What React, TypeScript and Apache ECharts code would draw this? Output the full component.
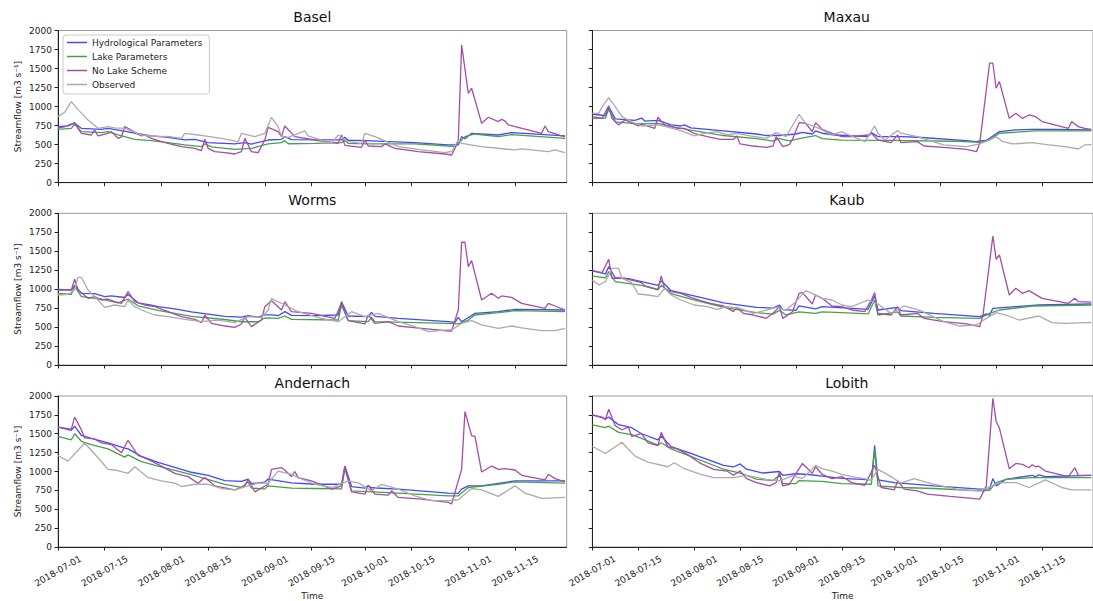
import React, { useEffect, useRef } from "react";
import * as echarts from "echarts";

const START_DATE = "2018-07-01";
const X_SPAN_DAYS = 152.5;
const TICK_DATES = [
  "2018-07-01", "2018-07-15", "2018-08-01", "2018-08-15", "2018-09-01",
  "2018-09-15", "2018-10-01", "2018-10-15", "2018-11-01", "2018-11-15",
];
const Y_MIN = 0;
const Y_MAX = 2000;
const Y_STEP = 250;
const STATIONS = ["Basel", "Maxau", "Worms", "Kaub", "Andernach", "Lobith"];
const SERIES_NAMES = ["Hydrological Parameters", "Lake Parameters", "No Lake Scheme", "Observed"];
const SERIES_COLORS = ["#4747ff", "#45a345", "#a64da6", "#ababab"];
const Y_LABEL = "Streamflow [m3 s\u207B\u00B9]";
const X_LABEL = "Time";

// [day offset from START_DATE, streamflow]
const baselHydro = [[0,735],[3,748],[5,782],[7,715],[13,700],[15,713],[19,684],[23,650],[28,615],[33,597],[38,562],[41,570],[45,527],[53,510],[56,527],[58,508],[63,561],[67,570],[68,605],[70,565],[85,562],[86,597],[87,558],[92,553],[107,526],[117,497],[120,496],[121,605],[122,578],[124,649],[132,627],[136,658],[152,614]];
const baselLake = [[0,702],[4,715],[5,772],[7,671],[13,658],[15,671],[18,627],[23,570],[28,553],[33,526],[38,496],[43,474],[44,509],[46,472],[53,439],[58,452],[63,509],[67,526],[68,553],[69,512],[77,517],[85,526],[86,553],[87,517],[93,509],[107,509],[117,482],[119,474],[122,605],[125,640],[132,605],[136,632],[152,583]];
const baselNoLake = [[0,720],[2,735],[5,790],[6,715],[7,649],[10,627],[11,693],[12,614],[15,649],[16,671],[18,583],[19,600],[20,737],[21,715],[25,614],[26,627],[28,583],[31,540],[33,517],[37,474],[41,452],[43,421],[44,570],[45,452],[47,408],[50,395],[53,377],[55,408],[56,583],[58,408],[60,395],[62,561],[63,728],[66,671],[67,605],[68,745],[71,605],[77,561],[84,517],[85,627],[86,490],[91,465],[92,561],[93,482],[97,474],[98,509],[101,452],[108,408],[116,377],[118,364],[119,450],[120,560],[121,1811],[123,1175],[124,1241],[127,780],[129,860],[132,803],[133,833],[134,811],[135,759],[145,649],[146,745],[147,671],[151,614],[152,605]];
const baselObs = [[0,868],[2,925],[4,1066],[6,960],[9,825],[12,715],[15,737],[17,720],[20,715],[25,627],[30,605],[33,610],[37,583],[38,649],[42,627],[44,614],[49,583],[54,540],[55,649],[59,605],[62,649],[64,860],[66,737],[67,605],[69,595],[74,680],[75,615],[82,517],[84,627],[87,540],[91,517],[92,649],[95,605],[102,474],[109,430],[116,395],[118,410],[120,561],[121,517],[127,474],[137,430],[139,445],[147,408],[149,430],[152,395]];

const maxauHydro = [[0,903],[4,880],[5,1000],[7,840],[13,820],[15,850],[16,810],[20,820],[24,760],[27,745],[28,759],[30,720],[40,680],[50,640],[53,620],[57,620],[62,640],[64,660],[67,640],[68,680],[70,650],[74,627],[84,605],[85,658],[87,605],[94,605],[99,597],[114,553],[117,540],[118,550],[120,555],[124,671],[129,693],[134,702],[140,700],[152,693]];
const maxauLake = [[0,846],[4,850],[5,965],[7,800],[14,772],[20,780],[25,730],[30,690],[40,620],[50,580],[55,545],[57,580],[60,550],[63,580],[68,620],[70,580],[76,560],[90,555],[110,545],[118,530],[121,560],[124,650],[135,680],[152,680]];
const maxauNoLake = [[0,868],[3,846],[5,1009],[6,846],[8,759],[10,825],[14,745],[15,770],[19,715],[20,860],[22,760],[26,715],[28,715],[31,649],[35,605],[39,570],[43,570],[44,614],[45,509],[49,482],[53,465],[55,480],[56,605],[58,474],[60,500],[61,570],[63,789],[65,781],[67,671],[68,789],[70,702],[73,649],[76,605],[79,605],[84,627],[85,649],[87,561],[91,526],[93,627],[94,526],[99,540],[101,482],[107,465],[114,439],[117,408],[118,517],[121,1570],[122,1570],[123,1241],[124,1329],[127,846],[129,912],[131,846],[133,890],[135,868],[137,803],[145,715],[146,803],[148,737],[150,715],[152,700]];
const maxauObs = [[0,912],[2,912],[3,1000],[5,1118],[7,1000],[9,868],[13,781],[15,745],[20,759],[23,730],[27,684],[31,614],[34,649],[38,671],[41,627],[44,649],[48,614],[53,583],[56,658],[59,605],[63,899],[65,781],[69,715],[73,627],[76,671],[77,649],[83,540],[86,745],[87,650],[89,561],[93,684],[94,650],[99,605],[107,496],[114,474],[118,509],[121,561],[123,605],[125,540],[128,509],[134,526],[139,496],[144,474],[148,443],[150,496],[152,500]];

const wormsHydro = [[0,998],[4,990],[5,1050],[7,945],[11,940],[14,901],[16,910],[20,890],[21,930],[24,820],[28,790],[30,770],[35,740],[40,700],[45,670],[50,640],[55,630],[57,650],[60,630],[62,660],[64,660],[66,650],[68,703],[70,655],[77,651],[84,659],[85,835],[87,646],[93,637],[94,695],[95,640],[102,615],[117,571],[119,563],[120,629],[121,571],[125,681],[132,703],[137,734],[152,725]];
const wormsLake = [[0,945],[4,930],[5,1040],[7,901],[13,870],[18,820],[21,870],[24,780],[30,720],[40,640],[50,600],[55,570],[60,570],[62,620],[66,615],[68,646],[70,602],[84,593],[85,791],[87,585],[93,571],[94,629],[95,571],[117,549],[120,541],[123,593],[125,659],[132,690],[137,717],[152,703]];
const wormsNoLake = [[0,989],[4,989],[5,1130],[6,989],[9,879],[11,901],[13,857],[15,870],[17,835],[19,813],[21,967],[23,835],[26,791],[29,769],[33,703],[37,637],[41,602],[43,558],[44,659],[46,549],[50,514],[53,497],[55,541],[56,629],[58,506],[61,593],[62,769],[64,848],[67,725],[68,835],[70,703],[76,681],[83,615],[85,813],[87,585],[92,541],[93,659],[95,549],[99,571],[102,514],[109,484],[117,448],[118,448],[120,725],[121,1618],[122,1618],[123,1297],[124,1376],[127,857],[130,945],[132,879],[133,910],[136,892],[139,813],[146,747],[147,813],[149,778],[152,725]];
const wormsObs = [[0,923],[3,932],[5,989],[6,1156],[7,1156],[9,989],[12,857],[14,760],[17,791],[20,769],[21,857],[23,769],[25,725],[29,659],[33,637],[38,602],[43,571],[48,593],[53,558],[57,637],[61,629],[63,725],[64,875],[68,791],[71,725],[72,703],[79,615],[84,571],[88,703],[92,637],[96,681],[102,571],[107,506],[111,440],[117,462],[118,462],[121,549],[124,585],[127,528],[132,484],[136,514],[139,490],[145,453],[149,453],[152,484]];

const kaubHydro = [[0,1240],[4,1200],[5,1297],[7,1150],[11,1140],[15,1100],[20,1050],[21,1110],[24,980],[30,920],[40,820],[45,790],[50,760],[55,750],[57,790],[58,730],[62,720],[63,780],[68,740],[70,770],[74,760],[84,734],[86,910],[87,725],[93,760],[94,717],[104,681],[118,637],[120,673],[121,655],[122,747],[129,769],[136,791],[152,804]];
const kaubLake = [[0,1174],[4,1150],[5,1231],[7,1100],[15,1050],[20,990],[21,1050],[24,940],[30,870],[40,760],[50,690],[55,670],[57,720],[59,660],[63,700],[68,680],[70,700],[76,690],[84,673],[86,857],[87,659],[93,700],[94,646],[104,629],[118,615],[121,681],[124,725],[134,778],[152,791]];
const kaubNoLake = [[0,1244],[3,1218],[5,1394],[6,1143],[10,1143],[11,1130],[15,1086],[16,1042],[20,998],[21,1174],[22,1011],[24,967],[27,945],[30,892],[33,848],[36,813],[40,778],[43,703],[44,760],[46,681],[49,659],[53,615],[55,681],[57,769],[58,615],[61,703],[63,945],[64,954],[67,804],[68,923],[70,879],[73,778],[76,769],[79,725],[83,703],[85,857],[86,954],[87,681],[91,659],[93,769],[94,659],[99,681],[101,615],[107,571],[114,541],[118,506],[119,659],[122,1701],[123,1394],[124,1451],[127,923],[129,1011],[131,945],[133,980],[137,879],[145,813],[147,879],[148,835],[152,830]];
const kaubObs = [[0,1121],[2,1055],[4,1099],[6,1275],[8,1275],[9,1143],[12,1086],[14,936],[17,923],[20,901],[22,1011],[24,923],[27,857],[31,791],[35,769],[38,734],[41,769],[45,747],[49,681],[53,725],[56,760],[59,725],[62,835],[65,980],[67,945],[70,879],[73,857],[76,791],[79,769],[84,857],[87,804],[91,681],[95,778],[100,717],[107,571],[112,514],[117,528],[120,615],[123,690],[126,659],[130,593],[136,646],[140,558],[144,549],[150,558],[152,560]];

const andernachHydro = [[0,1588],[4,1545],[5,1600],[7,1480],[10,1440],[15,1380],[20,1310],[21,1300],[25,1200],[30,1120],[40,990],[45,950],[50,880],[55,870],[57,900],[58,840],[62,860],[63,900],[70,850],[77,831],[85,831],[86,1072],[88,801],[92,780],[93,810],[94,785],[102,766],[117,713],[120,709],[121,766],[123,810],[127,810],[137,875],[152,875]];
const andernachLake = [[0,1466],[4,1420],[5,1500],[7,1400],[10,1357],[15,1300],[20,1190],[21,1220],[25,1130],[30,1070],[40,960],[50,830],[55,790],[57,860],[58,780],[62,770],[63,810],[70,780],[77,775],[85,770],[86,1037],[88,744],[102,713],[117,678],[120,678],[123,788],[132,831],[137,862],[152,845]];
const andernachNoLake = [[0,1588],[4,1562],[5,1720],[7,1553],[8,1444],[11,1431],[13,1378],[16,1357],[19,1247],[21,1413],[24,1212],[27,1160],[31,1072],[35,976],[39,932],[42,845],[44,919],[47,810],[53,757],[56,810],[57,897],[59,731],[63,831],[64,1028],[67,1050],[68,1020],[70,932],[71,1000],[72,919],[76,875],[82,766],[85,810],[86,1063],[88,731],[92,700],[93,818],[95,700],[99,687],[100,744],[102,656],[109,634],[117,591],[118,569],[121,1028],[122,1794],[124,1475],[125,1466],[127,993],[130,1072],[132,1028],[134,1037],[137,1020],[139,950],[146,888],[147,963],[149,906],[152,862]];
const andernachObs = [[0,1212],[3,1138],[8,1378],[12,1182],[15,1028],[17,1020],[21,976],[23,1063],[27,919],[31,875],[35,845],[37,801],[41,831],[45,831],[49,775],[53,757],[57,810],[60,845],[63,845],[66,1006],[70,963],[72,919],[77,831],[82,788],[87,875],[90,850],[94,744],[97,831],[102,766],[107,678],[112,613],[117,613],[120,626],[124,775],[127,757],[132,670],[137,810],[140,713],[145,643],[152,656]];

const lobithHydro = [[0,1750],[4,1700],[5,1720],[8,1620],[12,1580],[15,1500],[20,1420],[21,1470],[24,1330],[30,1240],[40,1080],[43,1060],[45,1100],[47,1030],[52,980],[57,1000],[58,950],[62,970],[66,960],[70,940],[76,910],[85,888],[86,1343],[87,888],[92,853],[104,810],[118,766],[121,770],[122,906],[123,810],[126,897],[134,950],[135,930],[136,955],[138,932],[152,950]];
const lobithLake = [[0,1619],[4,1580],[5,1600],[8,1518],[12,1488],[15,1440],[20,1350],[21,1380],[24,1300],[30,1200],[40,1030],[45,980],[50,900],[55,880],[57,950],[58,840],[62,840],[63,880],[70,870],[76,840],[85,831],[86,1291],[87,810],[94,788],[104,775],[118,744],[121,750],[123,853],[126,897],[134,919],[152,919]];
const lobithNoLake = [[0,1750],[3,1720],[4,1685],[5,1825],[7,1606],[9,1553],[11,1588],[12,1466],[15,1501],[17,1378],[20,1343],[21,1518],[23,1326],[26,1300],[29,1225],[33,1107],[37,1028],[41,1006],[43,950],[45,1006],[47,906],[50,853],[54,810],[56,853],[57,993],[58,810],[60,830],[64,1107],[67,976],[68,1063],[70,963],[73,906],[76,932],[77,910],[79,853],[83,818],[86,1081],[88,788],[92,757],[93,875],[95,766],[99,744],[102,700],[109,670],[118,634],[120,810],[122,1969],[123,1663],[124,1575],[127,1037],[129,1107],[131,1094],[133,1050],[134,1090],[135,1063],[136,1070],[138,1006],[145,932],[147,1050],[148,950],[152,950]];
const lobithObs = [[0,1335],[4,1238],[9,1387],[13,1203],[17,1125],[23,1063],[25,1116],[28,1037],[33,963],[37,919],[43,919],[47,950],[53,897],[57,875],[61,941],[64,906],[68,1081],[70,1037],[73,1006],[76,963],[79,932],[85,888],[87,1028],[91,932],[94,845],[98,906],[104,831],[112,757],[118,744],[124,853],[129,853],[133,788],[138,888],[143,788],[146,757],[152,757]];

const STATION_SERIES = [
  [baselHydro, baselLake, baselNoLake, baselObs],
  [maxauHydro, maxauLake, maxauNoLake, maxauObs],
  [wormsHydro, wormsLake, wormsNoLake, wormsObs],
  [kaubHydro, kaubLake, kaubNoLake, kaubObs],
  [andernachHydro, andernachLake, andernachNoLake, andernachObs],
  [lobithHydro, lobithLake, lobithNoLake, lobithObs],
];

const FONT = "DejaVu Sans";
const DAY_MS = 86400000;
const pad2 = (n: number) => (n < 10 ? "0" + n : "" + n);
const START_MS = Date.parse(START_DATE + "T00:00:00Z");
const dayToDate = (day: number) => {
  const d = new Date(START_MS + Math.round(day) * DAY_MS);
  return d.getUTCFullYear() + "-" + pad2(d.getUTCMonth() + 1) + "-" + pad2(d.getUTCDate());
};
const TICK_DAYS = TICK_DATES.map((s) => Math.round((Date.parse(s + "T00:00:00Z") - START_MS) / DAY_MS));

export default function App() {
  const ref = useRef<HTMLDivElement>(null);
  useEffect(() => {
    if (!ref.current) return;
    const chart = echarts.init(ref.current, undefined, { renderer: "svg" });

    const colLeft = [58, 592.3];
    const colWidth = [508.7, 509];
    const rowTop = [30.5, 213.3, 396];
    const rowHeight = [152.2, 151.7, 152.3];

    const grids: any[] = [];
    const xAxes: any[] = [];
    const yAxes: any[] = [];
    const titles: any[] = [];
    const series: any[] = [];

    STATIONS.forEach((name, i) => {
      const row = Math.floor(i / 2);
      const col = i % 2;
      grids.push({
        left: colLeft[col], top: rowTop[row], width: colWidth[col], height: rowHeight[row],
        show: true, borderColor: "#9a9a9a", borderWidth: 1, backgroundColor: "transparent",
      });
      titles.push({
        text: name, left: colLeft[col] + colWidth[col] / 2, top: rowTop[row] - 20.5,
        textAlign: "center", padding: 0,
        textStyle: { fontFamily: FONT, fontSize: 14, fontWeight: "normal", color: "#111" },
      });
      xAxes.push({
        type: "value", gridIndex: i, min: 0, max: X_SPAN_DAYS,
        axisLine: { show: true, onZero: false, lineStyle: { color: "#222", width: 1 } },
        axisTick: { show: true, customValues: TICK_DAYS, length: 3.5, lineStyle: { color: "#222" } },
        axisLabel: {
          show: row === 2, customValues: TICK_DAYS, formatter: (v: number) => dayToDate(v),
          rotate: 30, align: "center", verticalAlign: "middle", margin: 24,
          fontFamily: FONT, fontSize: 9, color: "#222",
        },
        splitLine: { show: false },
        name: row === 2 ? X_LABEL : "", nameLocation: "middle", nameGap: 44,
        nameTextStyle: { fontFamily: FONT, fontSize: 9, color: "#222" },
      });
      yAxes.push({
        type: "value", gridIndex: i, min: Y_MIN, max: Y_MAX, interval: Y_STEP,
        axisLine: { show: true, lineStyle: { color: "#222", width: 1 } },
        axisTick: { show: true, length: 3.5, lineStyle: { color: "#222" } },
        axisLabel: {
          show: col === 0, margin: 6, fontFamily: FONT, fontSize: 9, color: "#222",
          formatter: (v: number) => String(v),
        },
        splitLine: { show: false },
        name: col === 0 ? Y_LABEL : "", nameLocation: "middle", nameGap: 36,
        nameTextStyle: { fontFamily: FONT, fontSize: 9, color: "#222" },
      });
      STATION_SERIES[i].forEach((arr, k) => {
        series.push({
          type: "line", name: SERIES_NAMES[k], xAxisIndex: i, yAxisIndex: i,
          data: arr,
          symbol: "none", showSymbol: false,
          lineStyle: { color: SERIES_COLORS[k], width: 1.3 },
          itemStyle: { color: SERIES_COLORS[k] },
          z: 2,
        });
      });
    });

    chart.setOption({
      animation: false,
      backgroundColor: "#ffffff",
      textStyle: { fontFamily: FONT },
      title: titles,
      grid: grids,
      xAxis: xAxes,
      yAxis: yAxes,
      legend: {
        data: SERIES_NAMES, orient: "vertical", left: 63, top: 35,
        icon: "rect", itemWidth: 20, itemHeight: 1.5, itemGap: 5,
        padding: [3, 7, 5, 4],
        backgroundColor: "rgba(255,255,255,0.85)", borderColor: "#cccccc", borderWidth: 1, borderRadius: 3,
        textStyle: { fontFamily: FONT, fontSize: 9, color: "#222" },
      },
      series,
    });
    return () => chart.dispose();
  }, []);
  return <div ref={ref} style={{ position: "fixed", left: 0, top: 0, width: 1093, height: 601 }} />;
}
